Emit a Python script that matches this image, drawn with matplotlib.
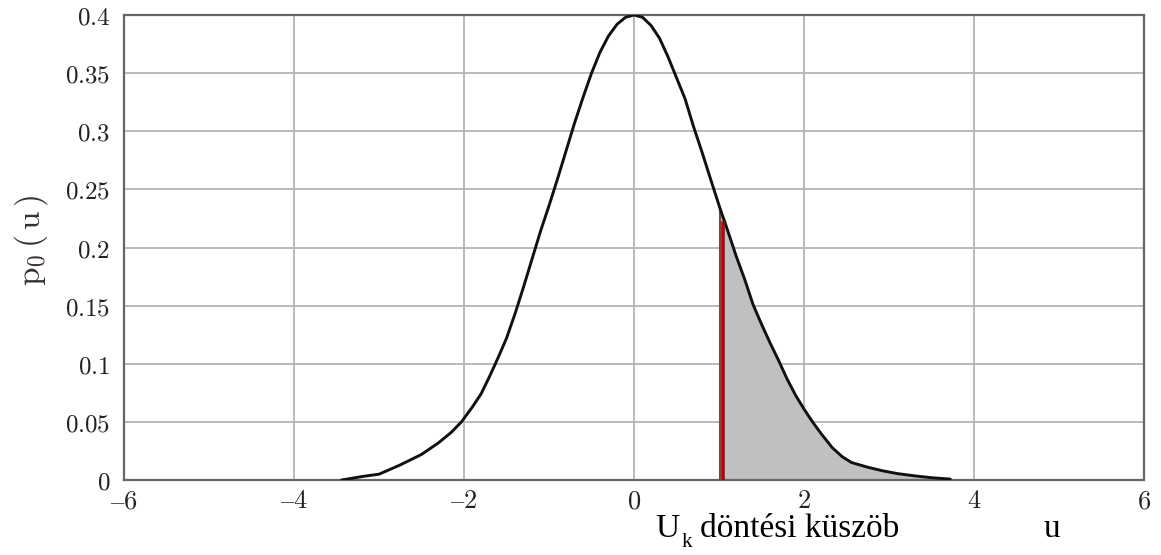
import matplotlib
matplotlib.use("Agg")
import matplotlib.pyplot as plt

# pontok a görbéről (leolvasva)
u_vals = [-3.44, -3.2, -3.0, -2.75, -2.5, -2.3, -2.15, -2.03, -1.9, -1.8, -1.7, -1.6,
          -1.5, -1.4, -1.3, -1.2, -1.1, -1.0, -0.9, -0.8, -0.7, -0.6, -0.5, -0.4,
          -0.3, -0.2, -0.1, 0.0, 0.1, 0.2, 0.3, 0.4, 0.5, 0.6, 0.7, 0.8, 0.9, 1.01,
          1.1, 1.2, 1.3, 1.4, 1.5, 1.6, 1.7, 1.8, 1.9, 2.0, 2.1, 2.2, 2.33, 2.45,
          2.56, 2.75, 2.92, 3.1, 3.32, 3.5, 3.72]
p_vals = [0.0, 0.003, 0.005, 0.013, 0.022, 0.032, 0.041, 0.05, 0.063, 0.074, 0.089, 0.105,
          0.122, 0.143, 0.166, 0.19, 0.214, 0.236, 0.259, 0.283, 0.307, 0.329, 0.35, 0.368,
          0.382, 0.392, 0.398, 0.4, 0.398, 0.391, 0.38, 0.364, 0.346, 0.328, 0.304, 0.282, 0.259, 0.234,
          0.215, 0.193, 0.173, 0.151, 0.134, 0.118, 0.103, 0.087, 0.073, 0.061, 0.05, 0.04, 0.028, 0.02,
          0.015, 0.011, 0.008, 0.0055, 0.0034, 0.002, 0.0008]

u_k = 1.05          # döntési küszöb (piros vonal)
u_k_top = 0.221     # piros vonal teteje
shade_from = 1.01   # szürke terület bal széle

x_ticks = [-6, -4, -2, 0, 2, 4, 6]
y_ticks = [0, 0.05, 0.1, 0.15, 0.2, 0.25, 0.3, 0.35, 0.4]
y_tick_labels = ["0", "0.05", "0.1", "0.15", "0.2", "0.25", "0.3", "0.35", "0.4"]

plt.rcParams["mathtext.fontset"] = "cm"

fig = plt.figure(figsize=(11.61, 5.55), dpi=100)
ax = fig.add_axes([0.1068, 0.1351, 0.8786, 0.8379])

shade_u = [u for u in u_vals if u >= shade_from]
shade_p = [p for u, p in zip(u_vals, p_vals) if u >= shade_from]
ax.fill_between(shade_u, 0, shade_p, color="#bfc0c2", lw=0, zorder=2)
ax.plot([shade_from, shade_from], [0, shade_p[0]], color="#555555", lw=1.5, zorder=3)
ax.plot(u_vals, p_vals, color="#111111", lw=2.1, zorder=4,
        solid_capstyle="round", solid_joinstyle="round")
ax.plot([u_k, u_k], [0, u_k_top], color="#c00000", lw=2.6, zorder=5)

ax.set_xlim(-6, 6)
ax.set_ylim(0, 0.4)
ax.set_xticks(x_ticks)
ax.set_xticklabels(["$%d$" % t if t >= 0 else "$\u2013%d$" % -t for t in x_ticks])
ax.set_yticks(y_ticks)
ax.set_yticklabels(["$%s$" % s for s in y_tick_labels])
ax.tick_params(length=0, labelsize=18, colors="#222222")
ax.tick_params(axis="x", pad=6, labelsize=19)
ax.tick_params(axis="y", pad=10)
ax.grid(True, color="#b4b4b4", lw=1.3, zorder=0)
for s in ax.spines.values():
    s.set_color("#666666")
    s.set_linewidth(1.6)

fig.text(0.027, 0.567, r"$\mathrm{p}_0\,(\,\mathrm{u}\,)$", rotation=90,
         fontsize=24, color="#3a3030", ha="center", va="center")
fig.text(0.564, 0.032, "U", fontsize=24, family="Liberation Serif", ha="left", va="baseline")
fig.text(0.587, 0.015, "k", fontsize=15, family="Liberation Serif", ha="left", va="baseline")
fig.text(0.603, 0.032, "döntési küszöb", fontsize=24, family="Liberation Serif",
         ha="left", va="baseline")
fig.text(0.906, 0.032, "u", fontsize=24, family="Liberation Serif", ha="center", va="baseline")

fig.savefig("out.png", dpi=100)
